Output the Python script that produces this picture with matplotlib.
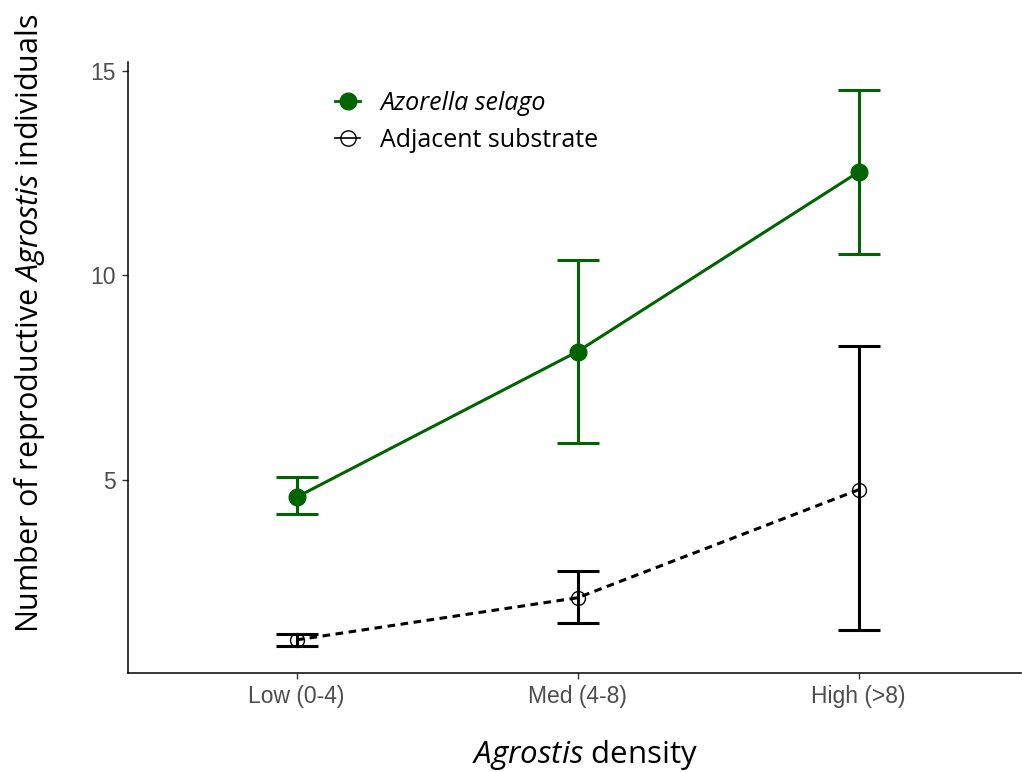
import numpy as np
import matplotlib
matplotlib.use("Agg")
import matplotlib.pyplot as plt
from matplotlib.lines import Line2D

plt.rcParams['mathtext.fontset'] = 'custom'
plt.rcParams['mathtext.rm'] = 'Open Sans'
plt.rcParams['mathtext.it'] = 'Open Sans:italic'

categories = ['Low (0-4)', 'Med (4-8)', 'High (>8)']

# Azorella selago cushions
azo_mean = [4.58, 8.14, 12.53]
azo_low = [4.16, 5.90, 10.53]
azo_high = [5.08, 10.38, 14.54]

# adjacent substrate
adj_mean = [1.09, 2.12, 4.76]
adj_low = [0.95, 1.50, 1.33]
adj_high = [1.23, 2.77, 8.28]

green = '#006400'
x = np.arange(1, len(categories) + 1)

fig = plt.figure(figsize=(10.22, 7.72), dpi=100)
ax = fig.add_axes([128 / 1022, 99 / 772, 893 / 1022, 611 / 772])

def draw(mean, lo, hi, color, ls, mfc, ms, lw):
    mean = np.array(mean)
    yerr = [mean - np.array(lo), np.array(hi) - mean]
    ax.errorbar(x, mean, yerr=yerr, fmt='none', ecolor=color, elinewidth=2.2,
                capsize=15, capthick=2.2, zorder=2)
    ax.plot(x, mean, color=color, ls=ls, lw=lw, zorder=3)
    ax.plot(x, mean, 'o', color=color, mfc=mfc, mec=color, ms=ms, mew=1,
            zorder=4)

draw(azo_mean, azo_low, azo_high, green, '-', green, 12, 2.2)
draw(adj_mean, adj_low, adj_high, 'black', (0, (2.5, 1.8)), 'none', 10, 2.2)

ax.set_xlim(0.4, 0.4 + 893 / 281)
ax.set_ylim(0.28, 15.22)
ax.set_xticks(x)
ax.set_xticklabels(categories)
ax.set_yticks([5, 10, 15])
for s in ['top', 'right']:
    ax.spines[s].set_visible(False)
for s in ['left', 'bottom']:
    ax.spines[s].set_linewidth(1.1)
ax.tick_params(axis='both', length=4, width=1, color='#333333',
               labelcolor='#4d4d4d', labelsize=16.5, pad=5)
for lab in ax.get_xticklabels() + ax.get_yticklabels():
    lab.set_fontfamily('Liberation Sans')

ax.set_ylabel('Number of reproductive $\\mathit{Agrostis}$ individuals',
              fontsize=22, fontfamily='Open Sans', va='center')
ax.yaxis.set_label_coords(-0.11, 0.573)
ax.set_xlabel('$\\mathit{Agrostis}$ density', fontsize=22.5,
              fontfamily='Open Sans', va='center')
ax.xaxis.set_label_coords(0.512, -0.134)

handles = [
    Line2D([], [], color=green, lw=2, marker='o', ms=12, mfc=green, mec=green),
    Line2D([], [], color='black', lw=1.2, marker='o', ms=11, mfc='none',
           mec='black'),
]
leg = ax.legend(handles, ['Azorella selago', 'Adjacent substrate'],
                loc='upper left', bbox_to_anchor=(0.207, 0.99), frameon=False,
                handlelength=1.0, handletextpad=0.8, labelspacing=0.5,
                prop={'family': 'Open Sans', 'size': 18})
leg.get_texts()[0].set_fontstyle('italic')

fig.savefig('out.png', dpi=100)
